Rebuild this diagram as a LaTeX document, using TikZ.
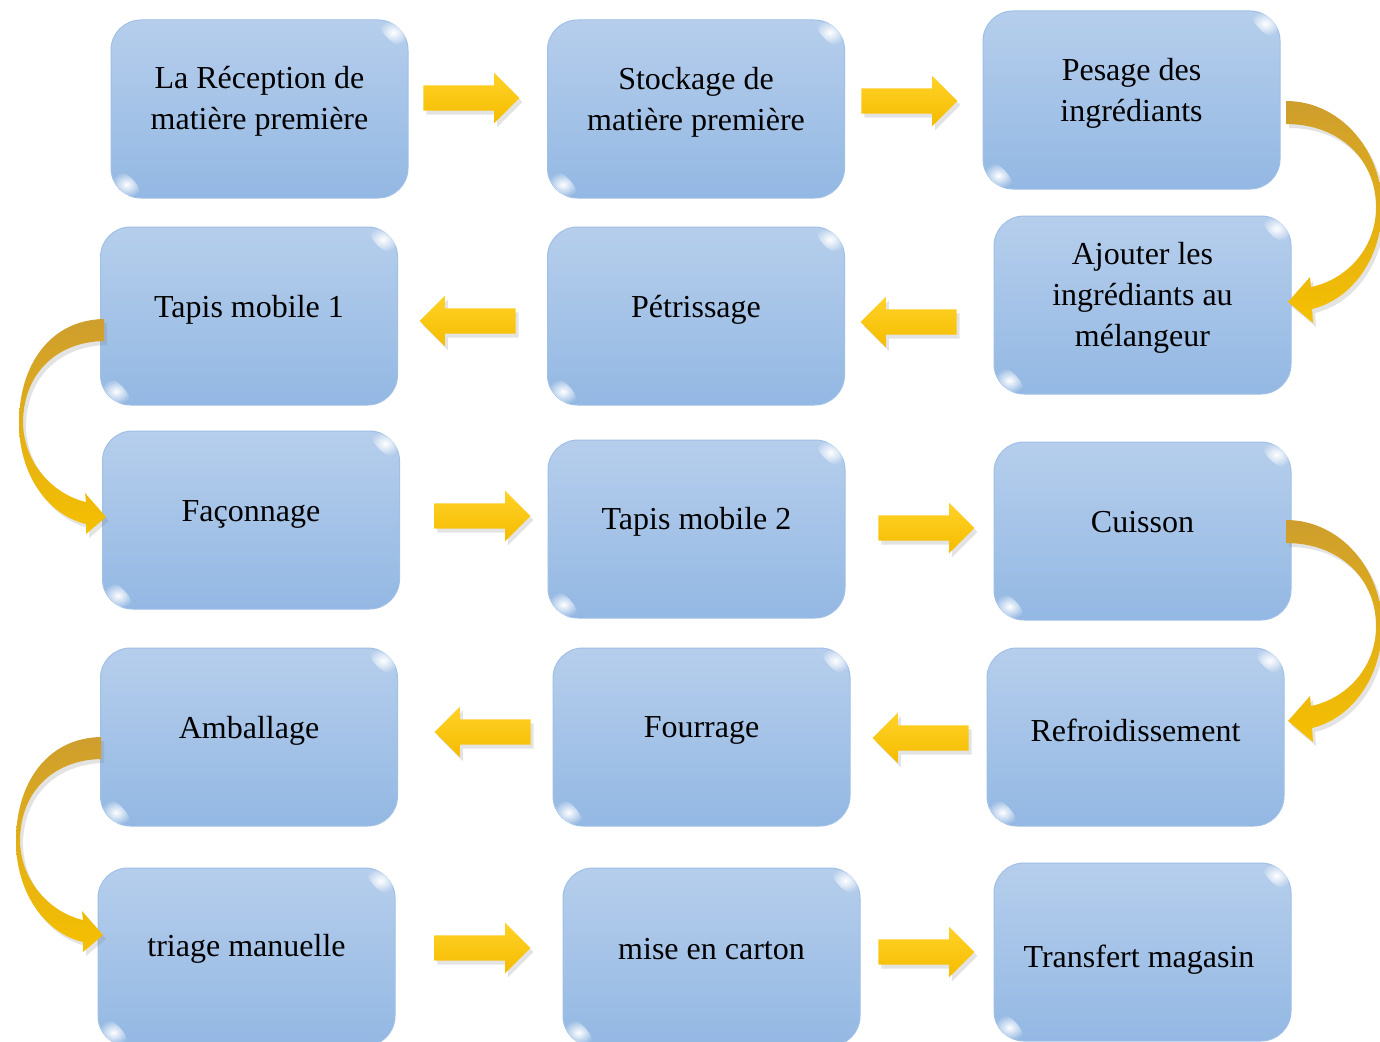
\documentclass[tikz,border=0pt]{standalone}
\usepackage{fontspec}
\setmainfont{Liberation Serif}
\usetikzlibrary{shapes.arrows,shadows,fadings,calc}
\definecolor{boxtop}{RGB}{182,206,236}
\definecolor{boxbot}{RGB}{147,184,227}
\definecolor{boxline}{RGB}{160,192,230}
\definecolor{arrtop}{RGB}{255,210,40}
\definecolor{arrbot}{RGB}{245,188,0}
\definecolor{curtop}{RGB}{206,158,46}
\definecolor{curbot}{RGB}{246,192,0}
\tikzfading[name=glowfade, inner color=transparent!0, outer color=transparent!100]
\newcommand{\glossbox}[1]{%
  \begin{scope}[shift={($(#1.north east)+(-15,13)$)}, rotate=-45]
    \fill[white, path fading=glowfade] (0,0) ellipse [x radius=18, y radius=8];
  \end{scope}
  \begin{scope}[shift={($(#1.south west)+(16,-14)$)}, rotate=-45]
    \fill[white, path fading=glowfade] (0,0) ellipse [x radius=18, y radius=8];
  \end{scope}}
\begin{document}
\begin{tikzpicture}[x=1pt,y=-1pt,
  stepbox/.style={rectangle, rounded corners=30pt, minimum width=297pt, minimum height=178pt,
    top color=boxtop, bottom color=boxbot, draw=boxline, line width=1pt, inner sep=0pt},
  boxtext/.style={font=\fontsize{32}{41}\selectfont, align=center, inner sep=0pt},
  rarrow/.style={single arrow, minimum height=96pt,
    single arrow head extend=12.5pt, single arrow head indent=0pt, inner xsep=0pt, inner ysep=12.5pt,
    top color=arrtop, bottom color=arrbot, draw=none,
    drop shadow={opacity=0.22, shadow xshift=3pt, shadow yshift=-4pt}},
  larrow/.style={rarrow, shape border rotate=180},
  curarrow/.style={top color=curtop, bottom color=curbot,
    drop shadow={opacity=0.22, shadow xshift=3pt, shadow yshift=-4pt}}
]
\useasboundingbox (0,0) rectangle (1380,1041);
\fill[white] (0,0) rectangle (1380,1041);

% boxes
\node[stepbox] (b1) at (259.5,109) {};
\node[stepbox] (b2) at (696,109) {};
\node[stepbox] (b3) at (1131.5,100) {};
\node[stepbox] (b4) at (249,316) {};
\node[stepbox] (b5) at (696,316) {};
\node[stepbox] (b6) at (1142.5,305) {};
\node[stepbox] (b7) at (251,520) {};
\node[stepbox] (b8) at (696.5,529) {};
\node[stepbox] (b9) at (1142.5,531) {};
\node[stepbox] (b10) at (249,737) {};
\node[stepbox] (b11) at (701.5,737) {};
\node[stepbox] (b12) at (1135.5,737) {};
\node[stepbox] (b13) at (246.5,957) {};
\node[stepbox] (b14) at (711.5,957) {};
\node[stepbox] (b15) at (1142.5,952) {};
\foreach \b in {b1,b2,b3,b4,b5,b6,b7,b8,b9,b10,b11,b12,b13,b14,b15}{\glossbox{\b}}

% texts
\node[boxtext] (t1) at (259.5,101) {La Réception de\\matière première};
\node[boxtext] (t2) at (696,102) {Stockage de\\matière première};
\node[boxtext] (t3) at (1131.5,93) {Pesage des\\ingrédiants};
\node[boxtext] (t4) at (249,310) {Tapis mobile 1};
\node[boxtext] (t5) at (696,310) {Pétrissage};
\node[boxtext] (t6) at (1142.5,298) {Ajouter les\\ingrédiants au\\mélangeur};
\node[boxtext] (t7) at (251,514) {Façonnage};
\node[boxtext] (t8) at (696.5,522) {Tapis mobile 2};
\node[boxtext] (t9) at (1142.5,522) {Cuisson};
\node[boxtext] (t10) at (249,731) {Amballage};
\node[boxtext] (t11) at (701.5,730) {Fourrage};
\node[boxtext] (t12) at (1135.5,730) {Refroidissement};
\node[boxtext] (t13) at (246.5,949) {triage manuelle};
\node[boxtext] (t14) at (711.5,949) {mise en carton};
\node[boxtext] (t15) at (1139,960) {Transfert magasin};

% straight block arrows
\node[rarrow] (a1) at (465,98) {};
\node[rarrow] (a2) at (903,101) {};
\node[larrow] (a3) at (474,321) {};
\node[larrow] (a4) at (915,322) {};
\node[rarrow] (a5) at (476,516) {};
\node[rarrow] (a6) at (920,528) {};
\node[larrow] (a7) at (489,732) {};
\node[larrow] (a8) at (927,738) {};
\node[rarrow] (a9) at (476,948) {};
\node[rarrow] (a10) at (920,952) {};

% curved arrows, right side
\foreach \dy in {0,419}{
\path[curarrow] (1286,101+\dy) .. controls (1340,101+\dy) and (1382,150+\dy) .. (1382,207+\dy)
  .. controls (1382,260+\dy) and (1350,300+\dy) .. (1312,309+\dy)
  -- (1313,323+\dy) -- (1288,302+\dy) -- (1310,277+\dy) -- (1311,287+\dy)
  .. controls (1345,280+\dy) and (1376,250+\dy) .. (1376,207+\dy)
  .. controls (1376,160+\dy) and (1340,124+\dy) .. (1286,124+\dy) -- cycle;
}
% curved arrows, left side
\foreach \dx/\dy in {0/0,-3/418}{
\path[curarrow] (104+\dx,319+\dy) .. controls (50+\dx,320+\dy) and (19+\dx,365+\dy) .. (19+\dx,423+\dy)
  .. controls (19+\dx,475+\dy) and (48+\dx,515+\dy) .. (86+\dx,524+\dy)
  -- (86+\dx,534+\dy) -- (106+\dx,517+\dy) -- (85+\dx,493+\dy) -- (86+\dx,502+\dy)
  .. controls (55+\dx,495+\dy) and (24+\dx,465+\dy) .. (23+\dx,423+\dy)
  .. controls (23+\dx,375+\dy) and (55+\dx,342+\dy) .. (104+\dx,341+\dy) -- cycle;
}
\end{tikzpicture}
\end{document}
